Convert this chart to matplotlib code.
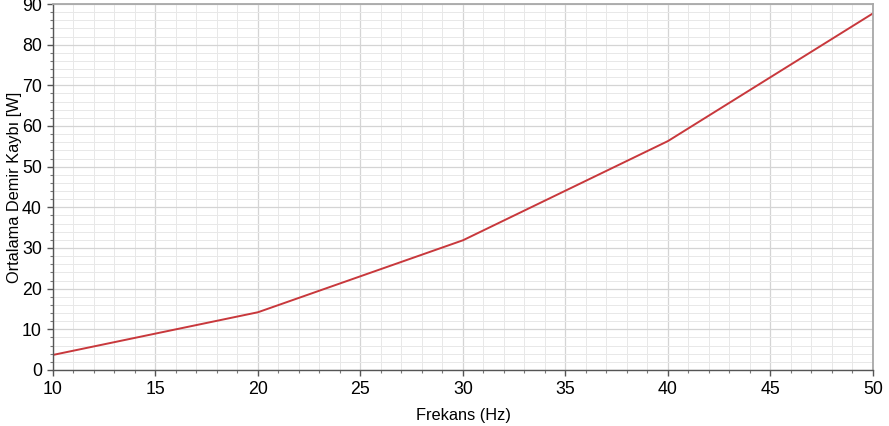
import matplotlib.pyplot as plt
from matplotlib.ticker import MultipleLocator

# frequency (Hz) and average iron loss (W)
frekans = [10, 20, 30, 40, 50]
demir_kaybi = [3.7, 14.2, 31.9, 56.3, 87.7]

plt.rcParams["font.family"] = ["Liberation Sans", "DejaVu Sans"]

fig = plt.figure(figsize=(8.89, 4.26), dpi=100)
ax = fig.add_axes([0.0596, 0.1315, 0.9224, 0.8591])

# grid: major every 5 / 10, minor every 1 / 2
ax.xaxis.set_major_locator(MultipleLocator(5))
ax.xaxis.set_minor_locator(MultipleLocator(1))
ax.yaxis.set_major_locator(MultipleLocator(10))
ax.yaxis.set_minor_locator(MultipleLocator(2))
ax.grid(which="major", color="#d4d4d4", linewidth=0.9)
ax.grid(which="minor", color="#e8e8e8", linewidth=0.7)
ax.set_axisbelow(True)

# the curve
ax.plot(frekans, demir_kaybi, color="#c8383c", linewidth=1.4)

ax.set_xlim(10, 50)
ax.set_ylim(0, 90)

# spines
for side in ["top", "right"]:
    ax.spines[side].set_color("#a8a8a8")
    ax.spines[side].set_linewidth(1.3)
for side in ["left", "bottom"]:
    ax.spines[side].set_color("#555555")
    ax.spines[side].set_linewidth(1.0)

ax.tick_params(which="major", direction="out", length=4, width=1, color="#555555",
               labelsize=12.8, pad=4)
ax.tick_params(which="minor", direction="out", length=2.5, width=0.8, color="#777777")

# label the axes
ax.set_xlabel("Frekans (Hz)", fontsize=11.8, labelpad=7)
ax.set_ylabel("Ortalama Demir Kaybı [W]", fontsize=11.8, labelpad=0)

fig.savefig("out.png", dpi=100)
